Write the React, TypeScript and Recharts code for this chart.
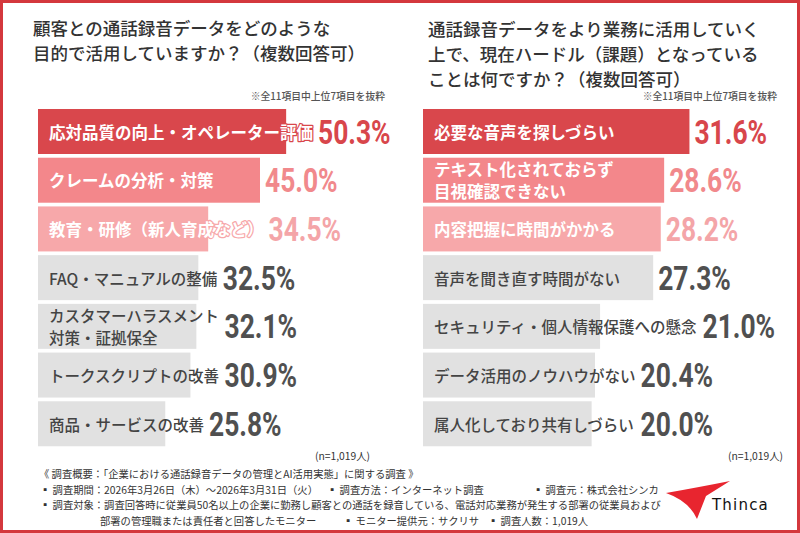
import { BarChart, Bar, XAxis, YAxis } from "recharts";

// 目的（左）と課題（右）の上位7項目
const purposeItems = [
  "応対品質の向上・オペレーター評価",
  "クレームの分析・対策",
  "教育・研修（新人育成など）",
  "FAQ・マニュアルの整備",
  "カスタマーハラスメント\n対策・証拠保全",
  "トークスクリプトの改善",
  "商品・サービスの改善",
];
const purposeRates = [50.3, 45.0, 34.5, 32.5, 32.1, 30.9, 25.8];

const hurdleItems = [
  "必要な音声を探しづらい",
  "テキスト化されておらず\n目視確認できない",
  "内容把握に時間がかかる",
  "音声を聞き直す時間がない",
  "セキュリティ・個人情報保護への懸念",
  "データ活用のノウハウがない",
  "属人化しており共有しづらい",
];
const hurdleRates = [31.6, 28.6, 28.2, 27.3, 21.0, 20.4, 20.0];

const barFills = ["#d9474c", "#f3878b", "#f7a8aa", "#e1e1e1", "#e1e1e1", "#e1e1e1", "#e1e1e1"];
const valueFills = ["#d8464b", "#f1898c", "#f4a5a8", "#505050", "#505050", "#505050", "#505050"];

const JP = '"Noto Sans CJK JP", "Noto Sans", sans-serif';
const NUM = 'Roboto, "Liberation Sans", sans-serif';

let measureCtx: CanvasRenderingContext2D | null = null;
function textWidth(s: string, font: string) {
  if (!measureCtx) measureCtx = document.createElement("canvas").getContext("2d");
  if (!measureCtx) return s.length * 16;
  measureCtx.font = font;
  return measureCtx.measureText(s).width;
}

function RankedBar(props: any) {
  const { x, y, width, height, payload } = props;
  const rank: number = payload.rank;
  const top = rank < 3;
  const fill = barFills[rank];
  const size = top ? 16.5 : 15.5;
  const weight = top ? 700 : 500;
  const lines = String(payload.item).split("\n");
  const cy = y + height / 2;
  const tx = x + 11;
  const textEnd = tx + Math.max(...lines.map((l) => textWidth(l, `${weight} ${size}px ${JP}`)));
  const vx = Math.max(x + width, textEnd) + 5;
  return (
    <g>
      <rect x={x} y={y} width={width} height={height} fill={fill} />
      {lines.map((l, i) => (
        <text
          key={i}
          x={tx}
          y={cy + (i - (lines.length - 1) / 2) * 22}
          dominantBaseline="central"
          fontFamily={JP}
          fontSize={size}
          fontWeight={weight}
          fill={top ? "#ffffff" : "#444444"}
          stroke={top ? fill : "none"}
          strokeWidth={top ? 2.5 : 0}
          strokeLinejoin="round"
          paintOrder="stroke"
        >
          {l}
        </text>
      ))}
      {/* condensed numerals: squeeze a regular face horizontally */}
      <text
        transform={`translate(${vx},${cy + 12}) scale(0.8,1)`}
        fontFamily={NUM}
        fontSize={33}
        fontWeight={700}
        fill={valueFills[rank]}
      >
        {payload.rate.toFixed(1)}%
      </text>
    </g>
  );
}

function RankPanel({ items, rates, left, width, max }: { items: string[]; rates: number[]; left: number; width: number; max: number }) {
  const rows = items.map((item, i) => ({ item, rate: rates[i], rank: i }));
  return (
    <div style={{ position: "absolute", left, top: 107 }}>
      <BarChart width={width} height={341} data={rows} layout="vertical" margin={{ top: 0, right: 0, bottom: 0, left: 0 }}>
        <XAxis type="number" dataKey="rate" domain={[0, max]} hide />
        <YAxis type="category" dataKey="item" width={0} hide />
        <Bar dataKey="rate" barSize={45} isAnimationActive={false} shape={RankedBar} />
      </BarChart>
    </div>
  );
}

export default function App() {
  const title = { fontFamily: JP, fontSize: 17.5, fontWeight: 500, fill: "#333333" };
  const note = { fontFamily: JP, fontSize: 9.8, fontWeight: 500, fill: "#555555" };
  const foot = { fontFamily: JP, fontSize: 10.3, fill: "#333333" };
  return (
    <div
      style={{
        position: "absolute",
        left: 0,
        top: 0,
        width: 800,
        height: 533,
        background: "#ffffff",
        border: "3px solid #d4383d",
        boxSizing: "border-box",
        overflow: "hidden",
      }}
    >
      <svg width={800} height={533} style={{ position: "absolute", left: -3, top: -3 }}>
        <g dominantBaseline="central">
          <text x={33} y={27} {...title}>顧客との通話録音データをどのような</text>
          <text x={33} y={52} {...title}>目的で活用していますか？（複数回答可）</text>
          <text x={428} y={28} {...title}>通話録音データをより業務に活用していく</text>
          <text x={428} y={53} {...title}>上で、現在ハードル（課題）となっている</text>
          <text x={428} y={78} {...title}>ことは何ですか？（複数回答可）</text>

          <text x={385} y={96} textAnchor="end" {...note}>※全11項目中上位7項目を抜粋</text>
          <text x={777} y={96} textAnchor="end" {...note}>※全11項目中上位7項目を抜粋</text>

          <text x={370} y={455} textAnchor="end" {...foot}>(n=1,019人)</text>
          <text x={783} y={455} textAnchor="end" {...foot}>(n=1,019人)</text>

          <text x={39} y={473} {...foot}>《 調査概要：「企業における通話録音データの管理とAI活用実態」に関する調査 》</text>
          <text x={40} y={489} {...foot}>▪ 調査期間：2026年3月26日（木）～2026年3月31日（火）</text>
          <text x={327} y={489} {...foot}>▪ 調査方法：インターネット調査</text>
          <text x={533} y={489} {...foot}>▪ 調査元：株式会社シンカ</text>
          <text x={40} y={504} {...foot}>▪ 調査対象：調査回答時に従業員50名以上の企業に勤務し顧客との通話を録音している、電話対応業務が発生する部署の従業員および</text>
          <text x={100} y={520} {...foot}>部署の管理職または責任者と回答したモニター</text>
          <text x={343} y={520} {...foot}>▪ モニター提供元：サクリサ</text>
          <text x={488} y={520} {...foot}>▪ 調査人数：1,019人</text>
        </g>

        {/* Thinca ロゴ */}
        <path d="M666 493 Q700 487 730 481 L706 496 L697 519 Q689 501 666 493 Z" fill="#e8252f" />
        <text x={712} y={510} fontFamily='"DejaVu Sans", sans-serif' fontSize={15} letterSpacing={1.2} fill="#111111">
          Thinca
        </text>
      </svg>

      <div style={{ position: "absolute", left: -3, top: -3 }}>
        <RankPanel items={purposeItems} rates={purposeRates} left={38} width={370} max={75} />
        <RankPanel items={hurdleItems} rates={hurdleRates} left={423} width={371} max={44} />
      </div>
    </div>
  );
}
